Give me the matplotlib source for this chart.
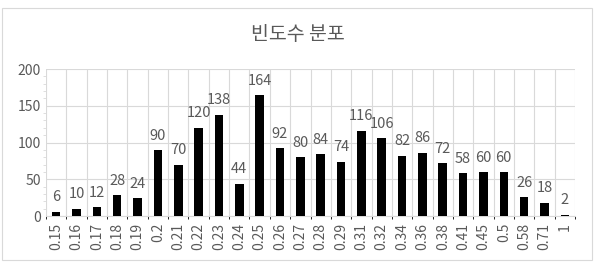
import matplotlib.pyplot as plt
import numpy as np
from matplotlib.patches import Rectangle

plt.rcParams['font.family'] = ['Noto Sans CJK KR', 'DejaVu Sans']

# 범주와 빈도수
labels = ['0.15', '0.16', '0.17', '0.18', '0.19', '0.2', '0.21', '0.22', '0.23',
          '0.24', '0.25', '0.26', '0.27', '0.28', '0.29', '0.31', '0.32', '0.34',
          '0.36', '0.38', '0.41', '0.45', '0.5', '0.58', '0.71', '1']
counts = [6, 10, 12, 28, 24, 90, 70, 120, 138, 44, 164, 92, 80, 84, 74, 116,
          106, 82, 86, 72, 58, 60, 60, 26, 18, 2]
yticks = [0, 50, 100, 150, 200]

grey = '#595959'
gridc = '#d9d9d9'

fig = plt.figure(figsize=(5.96, 2.64), dpi=100)
fig.patches.append(Rectangle((2/596, 4/264), 590/596, 252/264, transform=fig.transFigure,
                             fill=False, edgecolor=gridc, linewidth=0.8))
ax = fig.add_axes([46/596, 48/264, 529/596, 147/264])

x = np.arange(len(counts))
ax.bar(x, counts, width=0.42, color='black', zorder=3)
for xi, c in zip(x, counts):
    ax.text(xi, c + 10, str(c), ha='center', va='bottom', fontsize=10.5, color=grey)

ax.set_xlim(-0.5, len(counts) - 0.5)
ax.set_ylim(0, 200)
ax.set_yticks(yticks)
ax.set_yticks(np.arange(0, 201, 10), minor=True)
ax.set_xticks(x)
ax.set_xticklabels(labels, rotation=90, fontsize=10, color=grey)
ax.tick_params(axis='y', labelsize=10, labelcolor=grey, length=0)
ax.tick_params(axis='y', which='minor', length=2, color=gridc)
ax.tick_params(axis='x', length=0, pad=5)

ax.set_xticks(np.arange(-0.5, len(counts)), minor=True)
ax.grid(axis='y', which='major', color=gridc, linewidth=0.8, zorder=0)
ax.grid(axis='x', which='minor', color=gridc, linewidth=0.8, zorder=0)
for s in ['top', 'right', 'left']:
    ax.spines[s].set_visible(False)
ax.spines['bottom'].set_color(gridc)

fig.text(0.5, 1 - 34/264, '빈도수 분포', ha='center', va='center', fontsize=14, color=grey)

fig.savefig('out.png', dpi=100)
